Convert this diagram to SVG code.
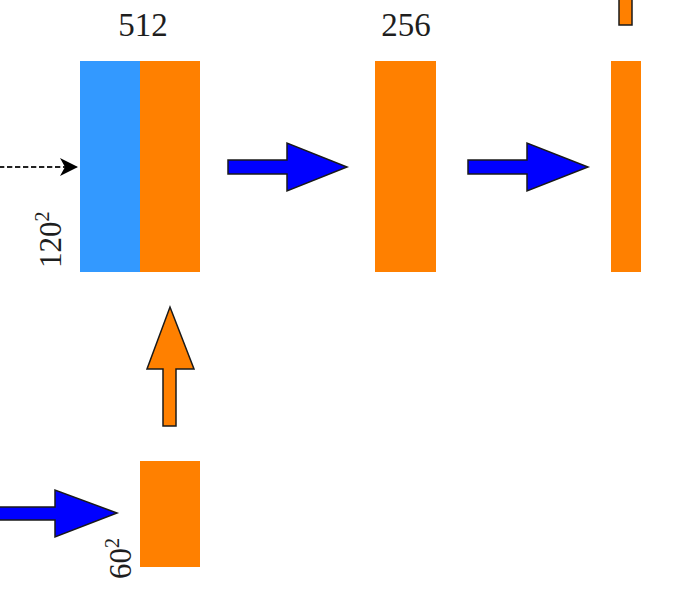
<svg xmlns="http://www.w3.org/2000/svg" width="695" height="594" viewBox="0 0 695 594">
<style>
.or{fill:#ff8000}
.bl{fill:#3399ff}
.lbl{font-family:"Liberation Serif","DejaVu Serif",serif;fill:#1e1e1e}
.big{font-size:33px;text-anchor:middle}
.dim{font-size:31px}
.sup{font-size:20px}
.barrow{fill:#0000ff;stroke:#1a1a1a;stroke-width:1.5;stroke-linejoin:miter}
.oarrow{fill:#ff8000;stroke:#1a1a1a;stroke-width:1.5}
</style>
<defs>
<marker id="stealth" markerWidth="20" markerHeight="20" refX="18" refY="9" orient="auto" markerUnits="userSpaceOnUse">
<path d="M0,0 L18,9 L0,18 L5,9 Z" fill="#000"/>
</marker>
</defs>
<rect width="695" height="594" fill="#fff"/>
<g id="block512">
<rect class="bl" x="80" y="61" width="60" height="211"/>
<rect class="or" x="140" y="61" width="60" height="211"/>
<text class="lbl big" x="143" y="36">512</text>
<text class="lbl dim" transform="translate(61,268) rotate(-90)">120<tspan class="sup" dy="-12">2</tspan></text>
</g>
<g id="block256">
<rect class="or" x="375" y="61" width="61" height="211"/>
<text class="lbl big" x="406" y="36">256</text>
</g>
<g id="block3">
<rect class="or" x="611" y="61" width="30" height="211"/>
</g>
<g id="stub">
<rect class="oarrow" x="619" y="-5" width="13" height="30"/>
</g>
<g id="block60">
<rect class="or" x="140" y="461" width="60" height="106"/>
<text class="lbl dim" transform="translate(131,579) rotate(-90)">60<tspan class="sup" dy="-12">2</tspan></text>
</g>
<g id="connectors">
<line x1="0" y1="167" x2="78" y2="167" stroke="#222" stroke-width="2" stroke-dasharray="5.3,2.7" stroke-dashoffset="1" marker-end="url(#stealth)"/>
<polygon class="barrow" points="228,160 287,160 287,143 347,167 287,191 287,174 228,174"/>
<polygon class="barrow" points="468,160 527,160 527,143 588,167 527,191 527,174 468,174"/>
<polygon class="barrow" points="-5,507 55,507 55,490 117,513 55,537 55,520 -5,520"/>
<polygon class="oarrow" points="163,426 163,369 147,369 170,307 194,369 176,369 176,426"/>
</g>
</svg>
